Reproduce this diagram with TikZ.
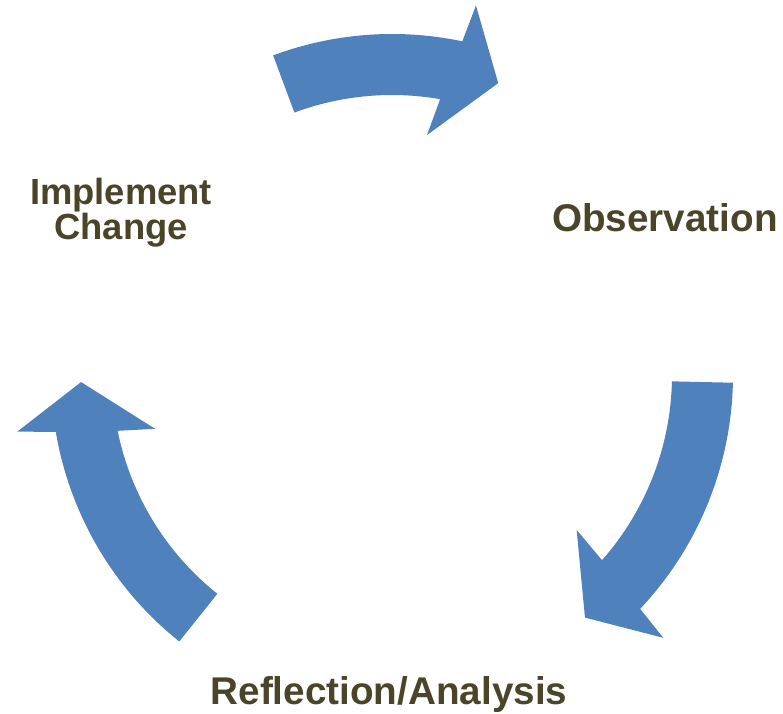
\documentclass[tikz,border=0pt]{standalone}
\usepackage{fontspec}
\setmainfont{Liberation Sans}
\definecolor{cycleblue}{HTML}{4F81BD}
\definecolor{labelbrown}{HTML}{4A4429}
\begin{document}
\begin{tikzpicture}[x=0.02cm,y=0.02cm,
   cyclearrow/.style={fill=cycleblue},
   phaselabel/.style={text=labelbrown,font=\bfseries\fontsize{22}{24}\selectfont,inner sep=0pt}]
   \useasboundingbox (0,0) rectangle (783,713);
   \begin{scope}[shift={(392,338)}]
   \fill[cyclearrow] (110.4:341) arc[start angle=110.4,end angle=78.1,radius=341]
      --(77.2:379)--(70:310.6)--(81.7:242.5)--(80.1:280)
      arc[start angle=80.1,end angle=110.4,radius=280]--cycle;
   \fill[cyclearrow] (-1.3:341) arc[start angle=-1.3,end angle=-43.3,radius=341]
      --(-44.1:377.6)--(-51.5:310)--(-40:241)--(-41.4:280)
      arc[start angle=-41.4,end angle=-1.3,radius=280]--cycle;
   \fill[cyclearrow] (231.4:341) arc[start angle=231.4,end angle=189.6,radius=341]
      --(188.6:379)--(181.3:311)--(192.8:243)--(191.5:280)
      arc[start angle=191.5,end angle=231.4,radius=280]--cycle;
   \end{scope}
   \node[phaselabel,anchor=base] (observation) at (665,481) {Observation};
   \node[phaselabel,anchor=base] (reflection) at (389,9) {Reflection/Analysis};
   \node[phaselabel,anchor=base,align=center,font=\bfseries\fontsize{20.7}{20}\selectfont] (implement) at (121,473) {Implement\\Change};
\end{tikzpicture}
\end{document}
